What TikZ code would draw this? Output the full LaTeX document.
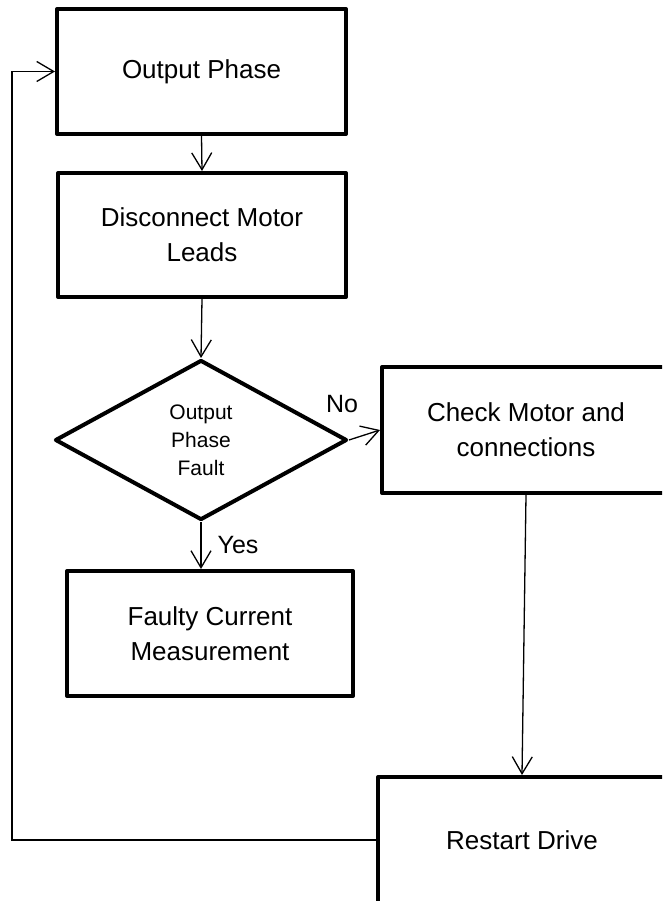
\documentclass[tikz,border=0pt]{standalone}
\usepackage{fontspec}
\setmainfont{Liberation Sans}
\usetikzlibrary{arrows.meta,shapes.geometric}
\tikzset{
  box/.style={draw, line width=4pt, line join=round, minimum width=288pt, minimum height=125pt,
    align=center, inner sep=0pt, font=\fontsize{26}{35}\selectfont},
  decision/.style={draw, diamond, line width=4pt, line join=round, minimum width=292pt, minimum height=160pt,
    align=center, inner sep=0pt, font=\fontsize{21}{28}\selectfont},
  lbl/.style={inner sep=0pt, font=\fontsize{25}{30}\selectfont},
  conn/.style={line width=1.3pt, -{Straight Barb[length=17pt,width=20pt]}},
  plain/.style={line width=1.3pt}
}
\begin{document}
\begin{tikzpicture}[x=1pt,y=-1pt]
\useasboundingbox (0,0) rectangle (662,901);
\fill[white] (0,0) rectangle (662,901);
\clip (0,0) rectangle (662,901);
\node[box, minimum width=289pt] (op) at (201.5,71.5) {Output Phase};
\node[box, minimum height=124pt] (dis) at (202,235) {Disconnect Motor\\Leads};
\node[decision] (dia) at (201,440) {Output\\Phase\\Fault};
\node[box, minimum height=126pt] (cm) at (526,430) {Check Motor and\\connections};
\node[box, minimum width=286pt] (fc) at (210,633.5) {Faulty Current\\Measurement};
\node[box, minimum height=126pt] (rd) at (522,840) {Restart Drive};
\node[lbl] (lblNo) at (342,404) {No};
\node[lbl] (lblYes) at (238,545) {Yes};
\coordinate (lc) at (12,840);
\draw[conn] (op.south) -- (dis.north);
\draw[conn] (dis.south) -- (dia.north);
\draw[conn] (dia.east) -- (cm.west);
\draw[conn] (dia.south) -- (dia.south |- fc.north);
\draw[conn] (cm.south) -- (rd.north);
\draw[conn] (rd.west) -- (lc) |- (op.west);
\end{tikzpicture}
\end{document}
